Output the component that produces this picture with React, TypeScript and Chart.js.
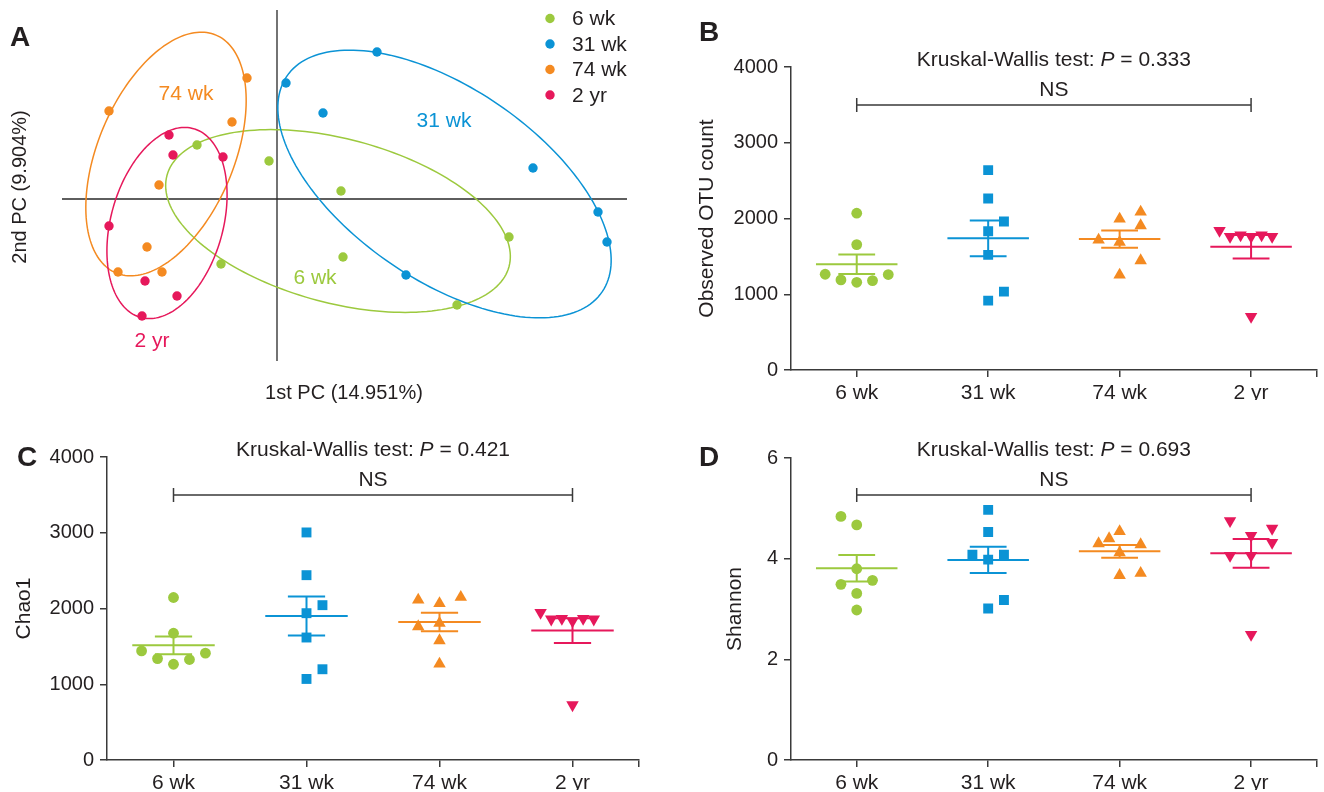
import React, { useEffect, useRef } from 'react';
import { Chart, registerables } from 'chart.js';

Chart.register(...registerables);

const PAGE_W = 1324;
const PAGE_H = 792;
const FONT = '"Liberation Sans", Arial, Helvetica, sans-serif';
const INK = '#231F20';
const AXIS = '#3A3A3A';

// ---------- groups ----------
const groups = ['6 wk', '31 wk', '74 wk', '2 yr'];
const groupColors = ['#9CC93E', '#0B93D5', '#F48A21', '#E6185B'];
const groupShapes = ['circle', 'rect', 'triangle', 'triangle'];
const groupRotation = [0, 0, 0, 180];
const groupRadius = [5.4, 7, 7.2, 7.2];

// ---------- Panel A: PCA ----------
const pc1Title = '1st PC (14.951%)';
const pc2Title = '2nd PC (9.904%)';
const pc1_6wk = [-0.080, -0.008, 0.064, 0.232, 0.066, -0.056, 0.180];
const pc2_6wk = [0.054, 0.038, 0.008, -0.038, -0.058, -0.065, -0.106];
const pc1_31wk = [0.009, 0.100, 0.046, 0.256, 0.321, 0.330, 0.129];
const pc2_31wk = [0.116, 0.147, 0.086, 0.031, -0.013, -0.043, -0.076];
const pc1_74wk = [-0.168, -0.030, -0.045, -0.118, -0.130, -0.159, -0.115];
const pc2_74wk = [0.088, 0.121, 0.077, 0.014, -0.048, -0.073, -0.073];
const pc1_2yr = [-0.108, -0.104, -0.054, -0.168, -0.132, -0.100, -0.135];
const pc2_2yr = [0.064, 0.044, 0.042, -0.027, -0.082, -0.097, -0.117];
const pc1Groups = [pc1_6wk, pc1_31wk, pc1_74wk, pc1_2yr];
const pc2Groups = [pc2_6wk, pc2_31wk, pc2_74wk, pc2_2yr];

// confidence ellipses (centre, semi-axes, rotation in degrees)
const ellipseCx = [0.061, 0.1675, -0.111, -0.110];
const ellipseCy = [-0.022, 0.015, 0.045, -0.024];
const ellipseA = [0.177, 0.191, 0.129, 0.098];
const ellipseB = [0.082, 0.096, 0.068, 0.056];
const ellipseDeg = [-14.9, -34.4, 67.2, 74.3];
// group label anchors (PC units)
const labelPc1 = [0.038, 0.167, -0.091, -0.125];
const labelPc2 = [-0.079, 0.078, 0.105, -0.142];

// ---------- Panel B: Observed OTU count ----------
const otu6wk = [2070, 1656, 1264, 1189, 1158, 1180, 1260];
const otu31wk = [2639, 2264, 1960, 1832, 1520, 1035, 916];
const otu74wk = [1995, 2088, 1907, 1718, 1687, 1445, 1255];
const otu2yr = [1841, 1762, 1780, 1762, 1780, 1762, 705];
const otuJitter = [
  [0, 0, -0.24, -0.12, 0, 0.12, 0.24],
  [0, 0, 0.12, 0, 0, 0.12, 0],
  [0, 0.16, 0.16, -0.16, 0, 0.16, 0],
  [-0.24, -0.16, -0.08, 0, 0.08, 0.16, 0],
];
const otuTicks = [0, 1000, 2000, 3000, 4000];

// ---------- Panel C: Chao1 ----------
const chao6wk = [2145, 1674, 1440, 1339, 1264, 1326, 1410];
const chao31wk = [3004, 2440, 2044, 1938, 1617, 1198, 1070];
const chao74wk = [2114, 2066, 2150, 1762, 1806, 1577, 1269];
const chao2yr = [1947, 1859, 1868, 1833, 1868, 1859, 727];
const chaoJitter = [
  [0, 0, -0.24, -0.12, 0, 0.12, 0.24],
  [0, 0, 0.12, 0, 0, 0.12, 0],
  [-0.16, 0, 0.16, -0.16, 0, 0, 0],
  [-0.24, -0.16, -0.08, 0, 0.08, 0.16, 0],
];
const chaoTicks = [0, 1000, 2000, 3000, 4000];

// ---------- Panel D: Shannon ----------
const shan6wk = [4.84, 4.67, 3.80, 3.49, 3.57, 3.31, 2.98];
const shan31wk = [4.97, 4.53, 4.08, 4.08, 3.98, 3.18, 3.01];
const shan74wk = [4.54, 4.40, 4.30, 4.28, 4.12, 3.67, 3.71];
const shan2yr = [4.75, 4.60, 4.46, 4.32, 4.06, 4.06, 2.49];
const shanJitter = [
  [-0.12, 0, 0, -0.12, 0.12, 0, 0],
  [0, 0, -0.12, 0.12, 0, 0.12, 0],
  [0, -0.08, -0.16, 0.16, 0, 0, 0.16],
  [-0.16, 0.16, 0, 0.16, -0.16, 0, 0],
];
const shanTicks = [0, 2, 4, 6];

const pValues = ['0.333', '0.421', '0.693'];

// ---------- helpers ----------
function drawKW(ctx: CanvasRenderingContext2D, cx: number, cy: number, p: string) {
  const a = 'Kruskal-Wallis test: ';
  const b = 'P';
  const c = ' = ' + p;
  ctx.font = `21px ${FONT}`;
  const wa = ctx.measureText(a).width;
  const wc = ctx.measureText(c).width;
  ctx.font = `italic 21px ${FONT}`;
  const wb = ctx.measureText(b).width;
  let x = cx - (wa + wb + wc) / 2;
  ctx.textAlign = 'left';
  ctx.textBaseline = 'middle';
  ctx.fillStyle = INK;
  ctx.font = `21px ${FONT}`;
  ctx.fillText(a, x, cy);
  x += wa;
  ctx.font = `italic 21px ${FONT}`;
  ctx.fillText(b, x, cy);
  x += wb;
  ctx.font = `21px ${FONT}`;
  ctx.fillText(c, x, cy);
}

function drawLetter(ctx: CanvasRenderingContext2D, t: string, x: number, y: number) {
  ctx.font = `bold 28px ${FONT}`;
  ctx.fillStyle = INK;
  ctx.textAlign = 'center';
  ctx.textBaseline = 'middle';
  ctx.fillText(t, x, y);
}

function makePcaConfig(): any {
  const datasets = groups.map((g, i) => ({
    label: g,
    data: pc1Groups[i].map((v, k) => ({ x: v, y: pc2Groups[i][k] })),
    pointStyle: 'circle',
    pointRadius: 4.7,
    pointBorderWidth: 0,
    backgroundColor: groupColors[i],
    borderColor: groupColors[i],
  }));
  const deco = {
    id: 'pcaDeco',
    beforeDatasetsDraw(chart: any) {
      const { ctx, chartArea, scales } = chart;
      const xs = scales.x;
      const ys = scales.y;
      ctx.save();
      ctx.strokeStyle = '#2A2A2A';
      ctx.lineWidth = 1.3;
      const x0 = xs.getPixelForValue(0);
      const y0 = ys.getPixelForValue(0);
      ctx.beginPath();
      ctx.moveTo(x0, chartArea.top);
      ctx.lineTo(x0, chartArea.bottom);
      ctx.moveTo(chartArea.left, y0);
      ctx.lineTo(chartArea.right, y0);
      ctx.stroke();
      for (let i = 0; i < groups.length; i++) {
        const phi = (ellipseDeg[i] * Math.PI) / 180;
        ctx.beginPath();
        const steps = 180;
        for (let s = 0; s <= steps; s++) {
          const t = (s / steps) * Math.PI * 2;
          const ex = ellipseCx[i] + ellipseA[i] * Math.cos(t) * Math.cos(phi) - ellipseB[i] * Math.sin(t) * Math.sin(phi);
          const ey = ellipseCy[i] + ellipseA[i] * Math.cos(t) * Math.sin(phi) + ellipseB[i] * Math.sin(t) * Math.cos(phi);
          const px = xs.getPixelForValue(ex);
          const py = ys.getPixelForValue(ey);
          if (s === 0) ctx.moveTo(px, py);
          else ctx.lineTo(px, py);
        }
        ctx.closePath();
        ctx.strokeStyle = groupColors[i];
        ctx.lineWidth = 1.5;
        ctx.stroke();
      }
      ctx.restore();
    },
    afterDraw(chart: any) {
      const { ctx, scales } = chart;
      ctx.save();
      drawLetter(ctx, 'A', 20, 38);
      // group labels
      ctx.font = `21px ${FONT}`;
      ctx.textAlign = 'center';
      ctx.textBaseline = 'middle';
      for (let i = 0; i < groups.length; i++) {
        ctx.fillStyle = groupColors[i];
        ctx.fillText(groups[i], scales.x.getPixelForValue(labelPc1[i]), scales.y.getPixelForValue(labelPc2[i]));
      }
      // legend
      for (let i = 0; i < groups.length; i++) {
        const ly = 18.5 + i * 25.5;
        ctx.beginPath();
        ctx.fillStyle = groupColors[i];
        ctx.arc(550, ly, 4.7, 0, Math.PI * 2);
        ctx.fill();
        ctx.fillStyle = INK;
        ctx.textAlign = 'left';
        ctx.fillText(groups[i], 572, ly + 1);
      }
      // axis titles
      ctx.font = `20px ${FONT}`;
      ctx.fillStyle = INK;
      ctx.textAlign = 'center';
      ctx.fillText(pc1Title, 344, 393);
      ctx.translate(20, 187);
      ctx.rotate(-Math.PI / 2);
      ctx.fillText(pc2Title, 0, 0);
      ctx.restore();
    },
  };
  return {
    type: 'scatter',
    data: { datasets },
    options: {
      responsive: false,
      animation: false,
      events: [],
      layout: { padding: { left: 62, top: 10, right: PAGE_W - 627, bottom: PAGE_H - 361 } },
      plugins: { legend: { display: false }, tooltip: { enabled: false } },
      scales: {
        x: { type: 'linear', display: false, min: -0.215, max: 0.35 },
        y: { type: 'linear', display: false, min: -0.162, max: 0.189 },
      },
    },
    plugins: [deco],
  };
}

type DotPanel = {
  letter: string;
  letterX: number;
  letterY: number;
  yTitle: string;
  yTicks: number[];
  values: number[][];
  jitter: number[][];
  p: string;
  bracket: number;
  area: { left: number; right: number; top: number; bottom: number };
  titleX: number;
};

function makeDotConfig(pn: DotPanel): any {
  const datasets = pn.values.map((vals, g) => ({
    label: groups[g],
    data: vals.map((v, i) => ({ x: g + pn.jitter[g][i], y: v })),
    pointStyle: groupShapes[g],
    pointRotation: groupRotation[g],
    pointRadius: groupRadius[g],
    pointBorderWidth: 0,
    backgroundColor: groupColors[g],
    borderColor: groupColors[g],
  }));
  const halfLine = 12.6;
  const padLeft = pn.titleX - halfLine;
  const yWidth = pn.area.left - padLeft;
  const xHeight = 30;
  const deco = {
    id: 'dotDeco',
    beforeDatasetsDraw(chart: any) {
      const { ctx, scales } = chart;
      const xs = scales.x;
      const ys = scales.y;
      ctx.save();
      ctx.lineWidth = 2;
      pn.values.forEach((vals, g) => {
        const n = vals.length;
        const m = vals.reduce((s, v) => s + v, 0) / n;
        const sd = Math.sqrt(vals.reduce((s, v) => s + (v - m) * (v - m), 0) / (n - 1));
        const sem = sd / Math.sqrt(n);
        ctx.strokeStyle = groupColors[g];
        ctx.beginPath();
        ctx.moveTo(xs.getPixelForValue(g - 0.31), ys.getPixelForValue(m));
        ctx.lineTo(xs.getPixelForValue(g + 0.31), ys.getPixelForValue(m));
        ctx.moveTo(xs.getPixelForValue(g), ys.getPixelForValue(m - sem));
        ctx.lineTo(xs.getPixelForValue(g), ys.getPixelForValue(m + sem));
        for (const e of [m - sem, m + sem]) {
          ctx.moveTo(xs.getPixelForValue(g - 0.14), ys.getPixelForValue(e));
          ctx.lineTo(xs.getPixelForValue(g + 0.14), ys.getPixelForValue(e));
        }
        ctx.stroke();
      });
      ctx.restore();
    },
    afterDraw(chart: any) {
      const { ctx, scales } = chart;
      const xs = scales.x;
      const ys = scales.y;
      ctx.save();
      drawLetter(ctx, pn.letter, pn.letterX, pn.letterY);
      const bx0 = xs.getPixelForValue(0);
      const bx1 = xs.getPixelForValue(groups.length - 1);
      const by = ys.getPixelForValue(pn.bracket);
      ctx.strokeStyle = AXIS;
      ctx.lineWidth = 1.5;
      ctx.beginPath();
      ctx.moveTo(bx0, by);
      ctx.lineTo(bx1, by);
      ctx.moveTo(bx0, by - 7);
      ctx.lineTo(bx0, by + 7);
      ctx.moveTo(bx1, by - 7);
      ctx.lineTo(bx1, by + 7);
      ctx.stroke();
      const cx = (bx0 + bx1) / 2;
      ctx.font = `21px ${FONT}`;
      ctx.fillStyle = INK;
      ctx.textAlign = 'center';
      ctx.textBaseline = 'middle';
      ctx.fillText('NS', cx, by - 15);
      drawKW(ctx, cx, by - 45, pn.p);
      ctx.restore();
    },
  };
  const yMax = pn.yTicks[pn.yTicks.length - 1];
  return {
    type: 'scatter',
    data: { datasets },
    options: {
      responsive: false,
      animation: false,
      events: [],
      layout: {
        padding: {
          left: padLeft,
          right: PAGE_W - pn.area.right,
          top: pn.area.top,
          bottom: PAGE_H - pn.area.bottom - xHeight,
        },
      },
      plugins: { legend: { display: false }, tooltip: { enabled: false } },
      scales: {
        x: {
          type: 'linear',
          min: -0.5,
          max: groups.length - 0.5,
          afterBuildTicks: (s: any) => {
            s.ticks = [0, 1, 2, 3, groups.length - 0.5].map((v) => ({ value: v }));
          },
          afterFit: (s: any) => {
            s.height = xHeight;
          },
          ticks: {
            autoSkip: false,
            maxRotation: 0,
            padding: 4,
            color: INK,
            font: { family: FONT, size: 21 },
            callback: (v: any) => (Number.isInteger(v) && groups[v] ? groups[v] : ''),
          },
          grid: { display: true, drawOnChartArea: false, drawTicks: true, tickLength: 7, color: AXIS, lineWidth: 1.5 },
          border: { display: true, color: AXIS, width: 1.5 },
        },
        y: {
          type: 'linear',
          min: 0,
          max: yMax,
          afterBuildTicks: (s: any) => {
            s.ticks = pn.yTicks.map((v) => ({ value: v }));
          },
          afterFit: (s: any) => {
            s.width = yWidth;
          },
          ticks: {
            padding: 6,
            color: INK,
            font: { family: FONT, size: 20 },
            callback: (v: any) => String(v),
          },
          title: {
            display: true,
            text: pn.yTitle,
            color: INK,
            font: { family: FONT, size: 21 },
            padding: 0,
          },
          grid: { display: true, drawOnChartArea: false, drawTicks: true, tickLength: 7, color: AXIS, lineWidth: 1.5 },
          border: { display: true, color: AXIS, width: 1.5 },
        },
      },
    },
    plugins: [deco],
  };
}

function ChartCanvas({ make }: { make: () => any }) {
  const ref = useRef<HTMLCanvasElement>(null);
  useEffect(() => {
    const chart = new Chart(ref.current as HTMLCanvasElement, make());
    return () => chart.destroy();
  }, [make]);
  return (
    <canvas
      ref={ref}
      width={PAGE_W}
      height={PAGE_H}
      style={{ position: 'absolute', left: 0, top: 0, width: PAGE_W, height: PAGE_H }}
    />
  );
}

const makeA = () => makePcaConfig();
const makeB = () =>
  makeDotConfig({
    letter: 'B',
    letterX: 709,
    letterY: 33,
    yTitle: 'Observed OTU count',
    yTicks: otuTicks,
    values: [otu6wk, otu31wk, otu74wk, otu2yr],
    jitter: otuJitter,
    p: pValues[0],
    bracket: 3500,
    area: { left: 791, right: 1321, top: 67, bottom: 370 },
    titleX: 707,
  });
const makeC = () =>
  makeDotConfig({
    letter: 'C',
    letterX: 27,
    letterY: 458,
    yTitle: 'Chao1',
    yTicks: chaoTicks,
    values: [chao6wk, chao31wk, chao74wk, chao2yr],
    jitter: chaoJitter,
    p: pValues[1],
    bracket: 3500,
    area: { left: 107, right: 639, top: 457, bottom: 760 },
    titleX: 24,
  });
const makeD = () =>
  makeDotConfig({
    letter: 'D',
    letterX: 709,
    letterY: 458,
    yTitle: 'Shannon',
    yTicks: shanTicks,
    values: [shan6wk, shan31wk, shan74wk, shan2yr],
    jitter: shanJitter,
    p: pValues[2],
    bracket: 5.265,
    area: { left: 791, right: 1321, top: 458, bottom: 760 },
    titleX: 735.5,
  });

export default function App() {
  return (
    <div style={{ position: 'absolute', left: 0, top: 0, width: PAGE_W, height: PAGE_H, background: '#ffffff', overflow: 'hidden' }}>
      <ChartCanvas make={makeA} />
      <ChartCanvas make={makeB} />
      <ChartCanvas make={makeC} />
      <ChartCanvas make={makeD} />
    </div>
  );
}
